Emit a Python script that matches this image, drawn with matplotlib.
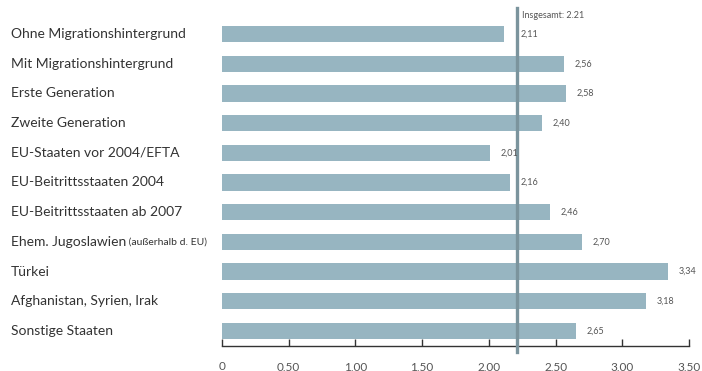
import matplotlib
matplotlib.use("Agg")
import matplotlib.pyplot as plt
import matplotlib.transforms as mtransforms

categories = ["Ohne Migrationshintergrund", "Mit Migrationshintergrund", "Erste Generation",
              "Zweite Generation", "EU-Staaten vor 2004/EFTA", "EU-Beitrittsstaaten 2004",
              "EU-Beitrittsstaaten ab 2007", "Ehem. Jugoslawien", "Türkei",
              "Afghanistan, Syrien, Irak", "Sonstige Staaten"]
small_suffix = {7: "(außerhalb d. EU)"}
values = [2.11, 2.56, 2.58, 2.40, 2.01, 2.16, 2.46, 2.70, 3.34, 3.18, 2.65]
value_labels = ["2,11", "2,56", "2,58", "2,40", "2,01", "2,16", "2,46", "2,70", "3,34", "3,18", "2,65"]
total = 2.21
total_label = "Insgesamt: 2.21"
xticks = [0, 0.5, 1.0, 1.5, 2.0, 2.5, 3.0, 3.5]
xtick_labels = ["0", "0,50", "1,00", "1,50", "2,00", "2,50", "3,00", "3,50"]

plt.rcParams['font.family'] = ['Lato', 'DejaVu Sans']
fig = plt.figure(figsize=(7.02, 3.71), dpi=100)
ax = fig.add_axes([222/702, 1 - 346/371, (689-222)/702, (346-8)/371])

bar_color = "#97b5c1"
line_color = "#7b949d"
text_color = "#333333"

y = list(range(len(categories)))
ax.barh(y, values, height=0.55, color=bar_color, zorder=2)
ax.set_xlim(0, 3.5)
ax.set_ylim(10.505, -0.875)

ax.plot([total, total], [-0.875, 10.72], color=line_color, lw=2.4, clip_on=False, zorder=3)
ax.text(total + 0.04, -0.62, total_label, fontsize=6.5, color="#555555", va="center", ha="left")

for i, (v, lab) in enumerate(zip(values, value_labels)):
    pos = v + 0.08
    if abs(pos - total) < 0.05:
        pos = total + 0.03
    ax.text(pos, i, lab, fontsize=6.5, color="#555555", va="center", ha="left")

trans = mtransforms.blended_transform_factory(fig.transFigure, ax.transData)
for i, c in enumerate(categories):
    t = ax.text(11/702, i, c, transform=trans, fontsize=10, color=text_color, va="center", ha="left")
    if i in small_suffix:
        ax.annotate(" " + small_suffix[i], xy=(1, 0.5), xycoords=t, va="center", ha="left",
                    fontsize=7.5, color=text_color)

ax.set_yticks([])
for s in ["top", "right", "left"]:
    ax.spines[s].set_visible(False)
ax.spines["bottom"].set_color("#333333")
ax.spines["bottom"].set_linewidth(1)
ax.set_xticks(xticks)
ax.set_xticklabels(xtick_labels)
ax.tick_params(axis="x", direction="in", length=5, width=1, color="#333333",
               labelsize=8.5, labelcolor="#555555", pad=11)

fig.savefig("out.png", dpi=100)
